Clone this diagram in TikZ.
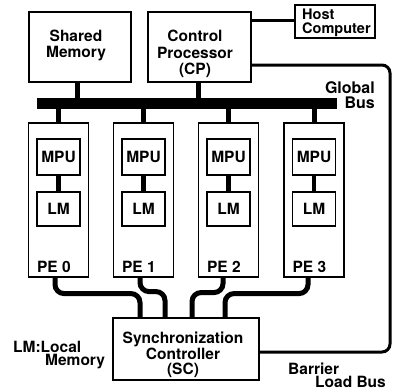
\documentclass[tikz,border=0pt]{standalone}
\usepackage{fontspec}
\setmainfont{TeX Gyre Heros}
\begin{document}
\begin{tikzpicture}[x=1pt,y=-1pt,
  box/.style={draw, line width=1.1pt, inner sep=0pt},
  lbl/.style={font=\fontsize{15.5}{15.5}\selectfont\bfseries, inner sep=0pt, align=center},
  thickc/.style={line width=5pt},
  pelink/.style={line width=5pt, rounded corners=9pt},
  thinbus/.style={line width=3pt, rounded corners=8pt}]
\useasboundingbox (0,0) rectangle (393,391);

% top boxes
\node[box, minimum width=102pt, minimum height=70pt] (sm) at (80,47) {};
\node[box, minimum width=103pt, minimum height=70pt] (cp) at (199.5,47) {};
\node[box, minimum width=80pt, minimum height=33pt] (host) at (335,21.5) {};

\node[lbl, anchor=north] (smt) at (76,30) {Shared\\Memory};
\node[lbl, anchor=north, font=\fontsize{15.5}{16.5}\selectfont\bfseries] (cpt) at (195,30) {Control\\Processor\\(CP)};
\node[lbl, anchor=north west, align=left, font=\fontsize{14.5}{13.5}\selectfont\bfseries] (hostt) at (302,9) {Host\\Computer};

% global bus
\node[fill=black, inner sep=0pt, minimum width=300pt, minimum height=11pt] (bus) at (187,103.5) {};
\node[lbl, anchor=north east, align=right, font=\fontsize{16}{15}\selectfont\bfseries] (bust) at (375,81) {Global\\Bus};

% PEs
\foreach \i/\x in {0/58.5, 1/143.5, 2/228.5, 3/314} {
  \node[box, minimum width=60pt, minimum height=154pt] (pe\i) at (\x,200) {};
  \node[box, minimum width=43pt, minimum height=36pt, lbl, text depth=0pt] (mpu\i) at (\x,157) {MPU};
  \node[box, minimum width=43pt, minimum height=34pt, lbl, text depth=0pt] (lm\i) at (\x,209) {LM};
  \draw[line width=4.5pt] (mpu\i.south) -- (lm\i.north);
  \draw[thickc] (pe\i.north) -- (pe\i.north |- bus.south);
  \node[lbl, anchor=base west] (pet\i) at ([shift={(9pt,5pt)}]pe\i.south west) {PE \i};
}

% connectors to bus
\draw[thickc] ([xshift=-3pt]sm.south) -- ([xshift=-3pt]sm.south |- bus.north);
\draw[thickc] ([xshift=-1.5pt]cp.south) -- ([xshift=-1.5pt]cp.south |- bus.north);

% synchronization controller
\node[box, minimum width=146pt, minimum height=62pt] (sc) at (186,349) {};
\node[lbl, anchor=north] (sct) at (183,332) {Synchronization\\Controller\\(SC)};

\coordinate (s0) at ([xshift=-46pt]sc.north);
\coordinate (s1) at ([xshift=-21pt]sc.north);
\coordinate (s2) at ([xshift=6pt]sc.north);
\coordinate (s3) at ([xshift=39pt]sc.north);

\draw[pelink] ([xshift=-3.5pt]pe0.south) -- ++(0,16) -| (s0);
\draw[pelink] ([xshift=-3.5pt]pe1.south) -- ++(0,14) -| (s1);
\draw[pelink] ([xshift=-5.5pt]pe2.south) -- ++(0,15) -| (s2);
\draw[pelink] ([xshift=-6pt]pe3.south) -- ++(0,16) -| (s3);

% host link and barrier load bus
\draw[line width=3pt] (host.west |- 0,20) -- (cp.east |- 0,20);
\coordinate (br) at (390,352);
\draw[thinbus] ([yshift=-18pt]cp.east) -| (br) -- (br -| sc.east);

% legends
\node[lbl, anchor=base west] (lm1t) at (13,352) {LM:Local};
\node[lbl, anchor=base west] (lm2t) at (45,365) {Memory};
\node[lbl, anchor=base west] (bl1) at (288,374.5) {Barrier};
\node[lbl, anchor=base west] (bl2) at (315,387.5) {Load Bus};
\end{tikzpicture}
\end{document}
